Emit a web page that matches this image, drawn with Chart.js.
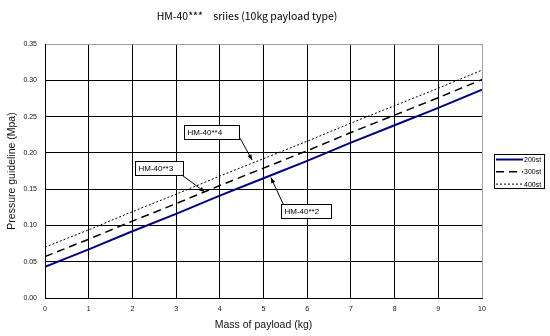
<!DOCTYPE html>
<html>
<head>
<meta charset="utf-8">
<script src="https://cdn.jsdelivr.net/npm/chart.js@4/dist/chart.umd.min.js"></script>
<style>
  html, body { margin: 0; padding: 0; background: #fff; }
  canvas { display: block; }
</style>
</head>
<body>
<canvas id="chart" width="550" height="336"></canvas>
<script>
// Payload mass (kg) and recommended supply pressure (MPa) per stroke type
const massKg  = [0, 1, 2, 3, 4, 5, 6, 7, 8, 9, 10];
const p200st  = [0.043, 0.067, 0.092, 0.116, 0.141, 0.165, 0.189, 0.214, 0.238, 0.262, 0.287];
const p300st  = [0.057, 0.081, 0.106, 0.130, 0.155, 0.179, 0.203, 0.228, 0.252, 0.276, 0.301];
const p400st  = [0.070, 0.094, 0.119, 0.143, 0.168, 0.192, 0.216, 0.241, 0.265, 0.289, 0.314];
const seriesNames = ['200st', '300st', '400st'];
const modelLabels = ['HM-40**4', 'HM-40**3', 'HM-40**2'];
const chartTitle = 'HM-40***\u3000sriies (10kg payload type)';
const xAxisTitle = 'Mass of payload (kg)';
const yAxisTitle = 'Pressure guideline (Mpa)';

const toPoints = vals => massKg.map((m, i) => ({ x: m, y: vals[i] }));

// Callout boxes: box corner, arrow start and arrow tip in data units
const callouts = [
  { text: modelLabels[0], box: [3.18, 0.2384], w: 55, from: [4.46, 0.2205], to: [4.74, 0.190] },
  { text: modelLabels[1], box: [2.06, 0.1888], w: 48, from: [3.13, 0.1695], to: [3.66, 0.146] },
  { text: modelLabels[2], box: [5.40, 0.1295], w: 50, from: [5.45, 0.1295], to: [5.17, 0.166] }
];

const decorations = {
  id: 'decorations',
  afterDatasetsDraw(chart) {
    const { ctx, scales: { x, y } } = chart;
    ctx.save();
    // callouts with arrows
    ctx.font = '8px "Liberation Sans", Arial, sans-serif';
    ctx.textBaseline = 'middle';
    callouts.forEach(c => {
      const bx = Math.round(x.getPixelForValue(c.box[0])) + 0.5;
      const by = Math.round(y.getPixelForValue(c.box[1])) + 0.5;
      const h = 14;
      ctx.fillStyle = '#fff';
      ctx.fillRect(bx, by, c.w, h);
      ctx.strokeStyle = '#000';
      ctx.lineWidth = 1;
      ctx.strokeRect(bx, by, c.w, h);
      ctx.fillStyle = '#000';
      ctx.textAlign = 'left';
      ctx.fillText(c.text, bx + 3, by + h / 2 + 0.5);

      const x0 = x.getPixelForValue(c.from[0]), y0 = y.getPixelForValue(c.from[1]);
      const x1 = x.getPixelForValue(c.to[0]),   y1 = y.getPixelForValue(c.to[1]);
      ctx.beginPath();
      ctx.moveTo(x0, y0);
      ctx.lineTo(x1, y1);
      ctx.stroke();
      const ang = Math.atan2(y1 - y0, x1 - x0);
      const len = 6, spread = 0.38;
      ctx.beginPath();
      ctx.moveTo(x1, y1);
      ctx.lineTo(x1 - len * Math.cos(ang - spread), y1 - len * Math.sin(ang - spread));
      ctx.lineTo(x1 - len * Math.cos(ang + spread), y1 - len * Math.sin(ang + spread));
      ctx.closePath();
      ctx.fill();
    });
    ctx.restore();
  },
  afterDraw(chart) {
    const { ctx } = chart;
    ctx.save();
    // title
    ctx.fillStyle = '#000';
    ctx.font = '10.5px "Noto Sans CJK JP", sans-serif';
    ctx.textAlign = 'center';
    ctx.textBaseline = 'middle';
    ctx.fillText(chartTitle, 247, 16);

    // legend
    const lx = 494.5, ly = 154.5, lw = 50, lh = 34;
    ctx.fillStyle = '#fff';
    ctx.fillRect(lx, ly, lw, lh);
    ctx.strokeStyle = '#000';
    ctx.lineWidth = 1;
    ctx.strokeRect(lx, ly, lw, lh);
    ctx.font = '7px "Liberation Sans", Arial, sans-serif';
    ctx.textAlign = 'left';
    chart.data.datasets.forEach((ds, i) => {
      const yy = 159.5 + i * 12.3;
      ctx.beginPath();
      ctx.setLineDash(ds.borderDash || []);
      ctx.strokeStyle = ds.borderColor;
      ctx.lineWidth = ds.borderWidth;
      ctx.moveTo(496, yy);
      ctx.lineTo(523, yy);
      ctx.stroke();
      ctx.setLineDash([]);
      ctx.fillStyle = '#000';
      ctx.fillText(ds.label, 524, yy + 0.5);
    });
    ctx.restore();
  }
};

new Chart(document.getElementById('chart'), {
  type: 'line',
  data: {
    datasets: [
      { label: seriesNames[0], data: toPoints(p200st), borderColor: '#000080', borderWidth: 2, pointRadius: 0, tension: 0 },
      { label: seriesNames[1], data: toPoints(p300st), borderColor: '#000', borderWidth: 1.5, borderDash: [8, 5], pointRadius: 0, tension: 0 },
      { label: seriesNames[2], data: toPoints(p400st), borderColor: '#000', borderWidth: 1, borderDash: [2, 2], pointRadius: 0, tension: 0 }
    ]
  },
  options: {
    responsive: false,
    animation: false,
    devicePixelRatio: 1,
    layout: { padding: { top: 44, right: 68, left: 0, bottom: 0 } },
    plugins: { legend: { display: false }, title: { display: false }, tooltip: { enabled: false } },
    scales: {
      x: {
        type: 'linear', min: 0, max: 10,
        afterFit: s => { s.height = 38; },
        ticks: { stepSize: 1, color: '#111', font: { size: 7, family: '"Liberation Sans", Arial, sans-serif' }, padding: 7, maxRotation: 0 },
        grid: { drawTicks: false, color: c => (c.index === 10 ? '#a0a0a0' : '#000'), lineWidth: 1 },
        border: { color: '#000', width: 1 },
        title: { display: true, text: xAxisTitle, color: '#111', font: { size: 10.5, family: '"Liberation Sans", Arial, sans-serif' }, padding: { top: 0, bottom: 5 } }
      },
      y: {
        type: 'linear', min: 0, max: 0.35,
        afterFit: s => { s.width = 45; },
        ticks: { stepSize: 0.05, color: '#111', font: { size: 7, family: '"Liberation Sans", Arial, sans-serif' }, padding: 8, callback: v => v.toFixed(2) },
        grid: { drawTicks: false, color: c => (c.index === 7 ? '#a0a0a0' : '#000'), lineWidth: 1 },
        border: { color: '#000', width: 1 },
        title: { display: true, text: yAxisTitle, color: '#111', font: { size: 10.5, family: '"Liberation Sans", Arial, sans-serif' }, padding: { top: 6, bottom: 0 } }
      }
    }
  },
  plugins: [decorations]
});
</script>
</body>
</html>
